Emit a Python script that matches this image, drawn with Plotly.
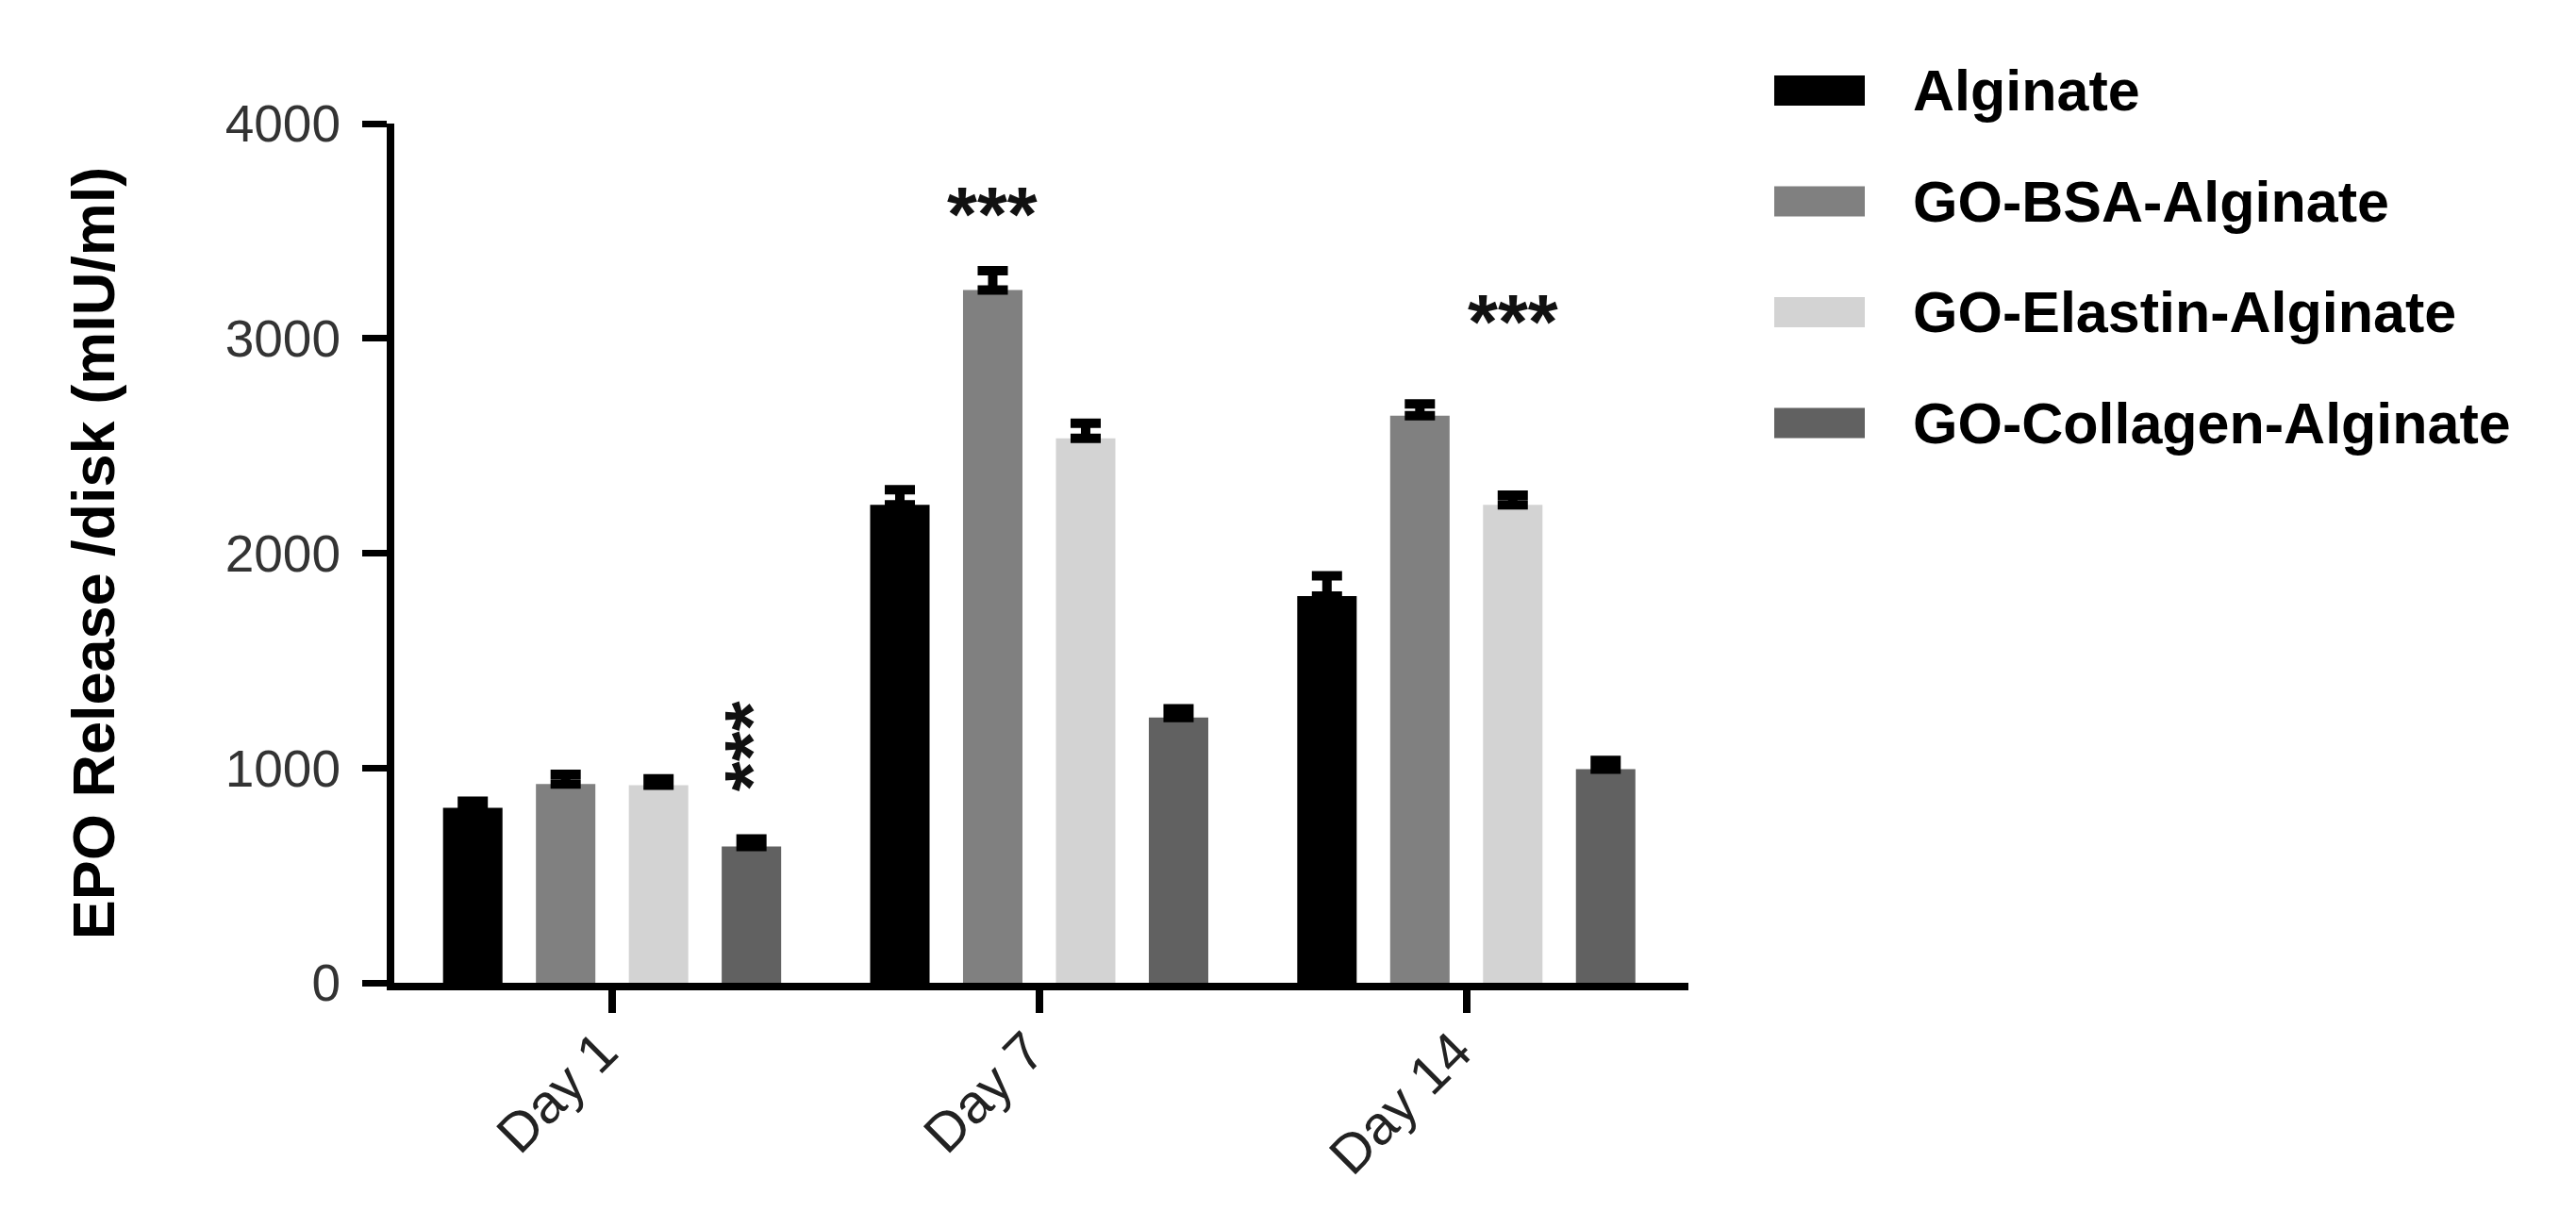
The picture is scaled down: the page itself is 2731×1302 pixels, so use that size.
import plotly.graph_objects as go

days = ["Day 1", "Day 7", "Day 14"]
series_names = ["Alginate", "GO-BSA-Alginate", "GO-Elastin-Alginate", "GO-Collagen-Alginate"]
series_colors = ["#000000", "#808080", "#d3d3d3", "#616161"]

alginate = [815, 2225, 1800]
go_bsa = [925, 3225, 2640]
go_elastin = [920, 2535, 2225]
go_collagen = [635, 1235, 995]

alginate_err = [30, 70, 95]
go_bsa_err = [45, 90, 55]
go_elastin_err = [30, 70, 45]
go_collagen_err = [35, 40, 40]

# significance marks: (day index, series index, y value, vertical?)
sig_marks = [(0, 3, 1100, True), (1, 1, 3580, False), (2, 2, 3080, False)]

values = [alginate, go_bsa, go_elastin, go_collagen]
errors = [alginate_err, go_bsa_err, go_elastin_err, go_collagen_err]

W, H = 2731, 1302
OFF = 8  # page body margin
L, R, T, B = 418 - OFF, 941 + OFF, 131 - OFF, 260 + OFF
bargap = 0.13
bargroupgap = 0.36
font = "Liberation Sans, Arial, sans-serif"

fig = go.Figure()
for name, col, vals, err in zip(series_names, series_colors, values, errors):
    fig.add_trace(go.Bar(
        x=days, y=vals, name=name,
        marker=dict(color=col, line=dict(width=0)),
        error_y=dict(type="data", array=err, arrayminus=[0] * len(err), symmetric=False,
                     color="black", thickness=10, width=16),
        showlegend=False,
    ))

# stars above the bars
slot = (1 - bargap) / len(series_names)
for day_i, ser_i, yv, vertical in sig_marks:
    xpos = day_i - (1 - bargap) / 2 + slot * (ser_i + 0.5)
    fig.add_annotation(x=xpos, y=yv, xref="x", yref="y", text="***", showarrow=False,
                       textangle=-90 if vertical else 0,
                       font=dict(family=font, size=82, color="#111", weight="bold"),
                       xanchor="center", yanchor="middle")

# legend drawn at the right
pw = W - L - R
ph = H - T - B
def px_x(p):
    return (p - OFF - L) / pw
def px_y(p):
    return (H - B - (p - OFF)) / ph

for i, (name, col) in enumerate(zip(series_names, series_colors)):
    yc = 96 + i * 117.5
    fig.add_shape(type="rect", xref="paper", yref="paper",
                  x0=px_x(1881), x1=px_x(1977), y0=px_y(yc + 16), y1=px_y(yc - 16),
                  fillcolor=col, line=dict(width=0))
    fig.add_annotation(x=px_x(2026), y=px_y(yc), xref="paper", yref="paper", text=name,
                       showarrow=False, xanchor="left", yanchor="middle",
                       font=dict(family=font, size=61, color="#000", weight="bold"))

fig.update_layout(
    width=W, height=H,
    margin=dict(l=L, r=R, t=T, b=B),
    paper_bgcolor="white", plot_bgcolor="white",
    barmode="group", bargap=bargap, bargroupgap=bargroupgap,
    font=dict(family=font, color="#222"),
)
fig.update_xaxes(
    type="category", range=[-0.51, 2.52],
    tickvals=days, ticktext=[d + "\u00a0" for d in days],
    showline=True, linecolor="black", linewidth=8,
    ticks="outside", ticklen=24, tickwidth=8, tickcolor="black",
    tickangle=-45, tickfont=dict(family=font, size=58, color="#222"),
    ticklabelstandoff=-28,
    showgrid=False, zeroline=False,
)
fig.update_yaxes(
    range=[0, 4000], tickvals=[0, 1000, 2000, 3000, 4000],
    showline=True, linecolor="black", linewidth=8,
    ticks="outside", ticklen=26, tickwidth=7, tickcolor="black",
    tickfont=dict(family=font, size=55, color="#333"),
    ticklabelstandoff=12,
    showgrid=False, zeroline=False,
    title=dict(text="EPO Release /disk (mIU/ml)", standoff=100,
               font=dict(family=font, size=63, color="#000", weight="bold")),
)

fig.write_html("out.html")
